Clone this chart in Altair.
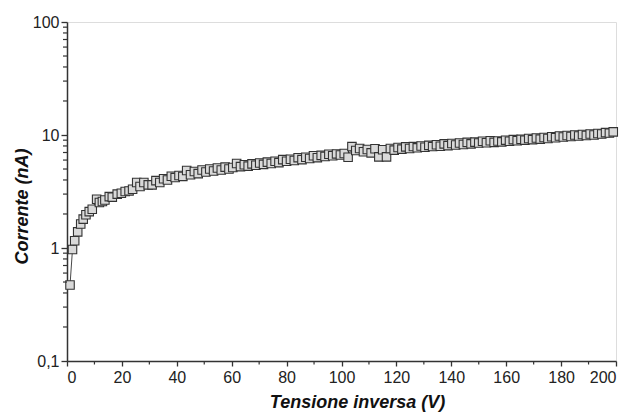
import altair as alt
import pandas as pd

voltage = [1.1, 2.0, 2.8, 3.9, 5.0, 5.9, 6.9, 8.1, 9.2, 10.8, 11.8, 12.9, 13.8, 15.4, 16.5,
           18.3, 19.8, 21.2, 22.6, 23.9, 25.4, 26.6, 28.0, 29.6,
           31.0, 32.4, 33.8, 35.2, 36.6, 38.0, 39.4, 40.8, 42.2, 43.6, 45.0, 46.4, 47.8, 49.2,
           50.6, 52.0, 53.4, 54.8, 56.2, 57.6, 59.0, 60.4, 61.8, 63.2, 64.6, 66.0, 67.4, 68.8,
           70.2, 71.6, 73.0, 74.4, 75.8, 77.2, 78.6, 80.0, 81.4, 82.8, 84.2, 85.6, 87.0, 88.4,
           89.8, 91.2, 92.6, 94.0, 95.4, 96.8, 98.2, 99.6, 101.0, 102.4, 103.8, 105.2, 106.6,
           108.0, 109.4, 110.8, 112.2, 113.6, 115.0, 116.4, 117.8, 119.2, 120.6, 122.0, 123.4,
           124.8, 126.2, 127.6, 129.0, 130.4, 131.8, 133.2, 134.6, 136.0, 137.4, 138.8, 140.2,
           141.6, 143.0, 144.4, 145.8, 147.2, 148.6, 150.0, 151.4, 152.8, 154.2, 155.6, 157.0,
           158.4, 159.8, 161.2, 162.6, 164.0, 165.4, 166.8, 168.2, 169.6, 171.0, 172.4, 173.8,
           175.2, 176.6, 178.0, 179.4, 180.8, 182.2, 183.6, 185.0, 186.4, 187.8, 189.2, 190.6,
           192.0, 193.4, 194.8, 196.2, 197.6, 199.0]

current = [0.47, 0.97, 1.16, 1.39, 1.63, 1.80, 1.97, 2.10, 2.20, 2.70, 2.53, 2.58, 2.66, 2.85, 2.82,
           3.00, 3.05, 3.16, 3.20, 3.31, 3.80, 3.50, 3.80, 3.62,
           3.62, 3.95, 3.80, 4.10, 4.00, 4.32, 4.20, 4.38, 4.30, 4.85, 4.45, 4.75, 4.55, 4.90,
           4.70, 5.00, 4.80, 5.10, 4.90, 5.20, 5.00, 5.15, 5.60, 5.25, 5.45, 5.30, 5.55, 5.40,
           5.65, 5.50, 5.75, 5.60, 5.85, 5.70, 6.05, 5.85, 6.10, 5.95, 6.30, 6.05, 6.35, 6.20,
           6.55, 6.30, 6.60, 6.45, 6.75, 6.55, 6.80, 6.65, 6.85, 6.35, 7.90, 7.30, 7.60,
           7.10, 7.45, 6.95, 7.55, 6.40, 7.40, 6.40, 7.60, 7.35, 7.75, 7.50, 7.85,
           7.60, 7.90, 7.70, 8.00, 7.80, 8.10, 7.90, 8.20, 7.95, 8.35, 8.05, 8.40,
           8.15, 8.50, 8.25, 8.60, 8.35, 8.65, 8.50, 8.80, 8.55, 8.90, 8.60, 8.85,
           8.70, 9.00, 8.80, 9.10, 8.90, 9.15, 9.00, 9.30, 9.10, 9.40, 9.20, 9.50,
           9.30, 9.65, 9.45, 9.80, 9.60, 9.90, 9.70, 10.00, 9.80, 10.10, 9.90, 10.20,
           10.00, 10.30, 10.20, 10.50, 10.40, 10.65]

x_major = [0, 20, 40, 60, 80, 100, 120, 140, 160, 180, 200]
x_minor = [10, 30, 50, 70, 90, 110, 130, 150, 170, 190]
y_major = [0.1, 1, 10, 100]
y_minor = [0.2, 0.3, 0.4, 0.5, 0.6, 0.7, 0.8, 0.9,
           2, 3, 4, 5, 6, 7, 8, 9,
           20, 30, 40, 50, 60, 70, 80, 90]

df = pd.DataFrame({"V": voltage, "I": current})
dfx = pd.DataFrame({"V": x_minor})
dfy = pd.DataFrame({"I": y_minor})

FONT = "Liberation Sans"
AX = "#333333"
W, H = 549, 339

xscale = alt.Scale(domain=[0, 200], nice=False, zero=False)
yscale = alt.Scale(type="log", domain=[0.1, 100], nice=False)

x_main = alt.X("V:Q", scale=xscale, axis=alt.Axis(
    orient="bottom", values=x_major, format="d", grid=False,
    tickSize=5, tickWidth=1.3, tickColor=AX, domainColor=AX, domainWidth=1.5,
    labelFont=FONT, labelFontSize=16, labelColor="#222", labelPadding=3,
    title="Tensione inversa (V)", titleFont=FONT, titleFontSize=18,
    titleFontWeight="bold", titleFontStyle="italic", titleColor="#111",
    titleX=290, titleY=41, titleAlign="center", titleBaseline="middle"))
y_main = alt.Y("I:Q", scale=yscale, axis=alt.Axis(
    orient="left", values=y_major, grid=False,
    labelExpr="replace(format(datum.value, '~g'), '.', ',')",
    tickSize=6, tickWidth=1.3, tickColor=AX, domainColor=AX, domainWidth=1.5,
    labelFont=FONT, labelFontSize=16, labelColor="#222", labelPadding=2,
    title="Corrente (nA)", titleFont=FONT, titleFontSize=18,
    titleFontWeight="bold", titleFontStyle="italic", titleColor="#111",
    titleX=-45, titleY=184, titleAngle=270, titleAlign="center",
    titleBaseline="middle"))

base = alt.Chart(df)
line = base.mark_line(color="#333333", strokeWidth=0.9).encode(x=x_main, y=y_main)
pts = base.mark_square(size=72, fill="#d9d9d9", stroke="#333333",
                       strokeWidth=1.1, opacity=1).encode(x="V:Q", y="I:Q")

xminor = alt.Chart(dfx).mark_rule(color=AX, strokeWidth=1.2).encode(
    x=alt.X("V:Q", scale=xscale),
    y=alt.value(H), y2=alt.value(H + 3.5))
yminor = alt.Chart(dfy).mark_rule(color=AX, strokeWidth=1.2).encode(
    y=alt.Y("I:Q", scale=yscale),
    x=alt.value(0), x2=alt.value(-4))

chart = alt.layer(line, pts, xminor, yminor).properties(
    width=W, height=H,
    autosize=alt.AutoSizeParams(type="none"),
    padding={"left": 67, "top": 22, "right": 17, "bottom": 55},
).configure_view(stroke=None).configure(background="white")

chart.save("out.html", embed_options={"renderer": "svg", "actions": False})
